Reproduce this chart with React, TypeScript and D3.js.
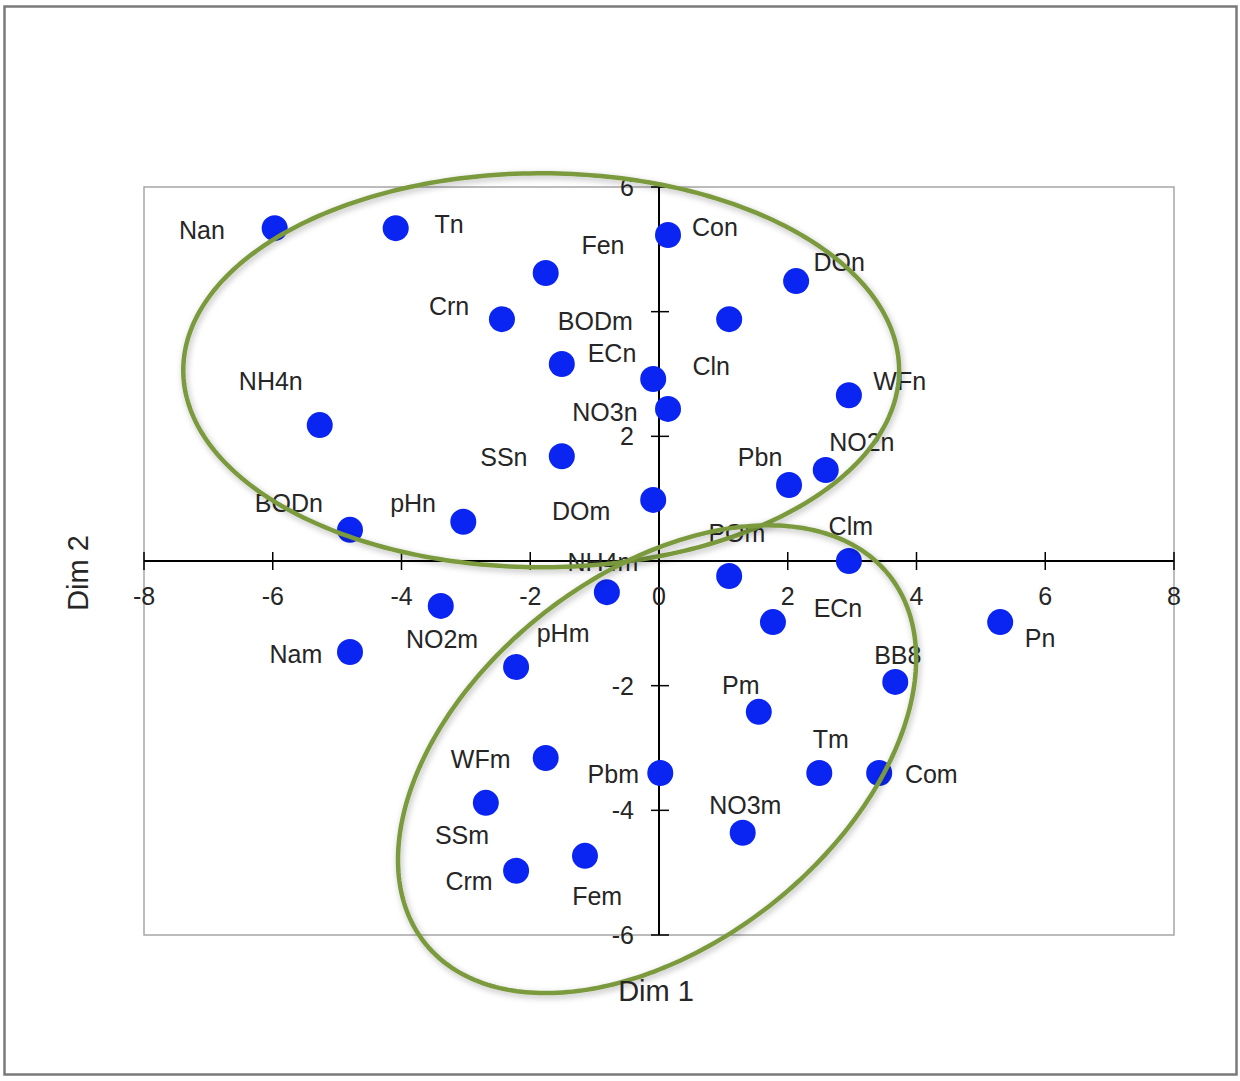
import React from "react";
import * as d3 from "d3";

// ---- data ----
const pointNames = [
  "Nan", "Tn", "Fen", "Con", "DOn", "Crn", "BODm", "ECn", "Cln", "NH4n", "WFn", "NO3n",
  "SSn", "NO2n", "Pbn", "DOm", "BODn", "pHn", "Clm", "POm", "NH4m", "NO2m", "ECn", "Pn",
  "Nam", "pHm", "BB8", "Pm", "WFm", "Pbm", "Tm", "Com", "SSm", "NO3m", "Fem", "Crm",
];
const dim1 = [
  -5.97, -4.09, -1.76, 0.14, 2.13, -2.44, 1.09, -1.51, -0.09, -5.27, 2.95, 0.14,
  -1.51, 2.59, 2.02, -0.09, -4.8, -3.04, 2.95, 1.09, -0.81, -3.39, 1.77, 5.3,
  -4.8, -2.22, 3.67, 1.55, -1.76, 0.02, 2.49, 3.42, -2.69, 1.3, -1.15, -2.22,
];
const dim2 = [
  5.34, 5.34, 4.62, 5.23, 4.49, 3.88, 3.88, 3.16, 2.92, 2.18, 2.66, 2.44,
  1.68, 1.46, 1.22, 0.98, 0.5, 0.63, 0.0, -0.24, -0.5, -0.72, -0.98, -0.98,
  -1.46, -1.7, -1.94, -2.42, -3.16, -3.4, -3.4, -3.4, -3.88, -4.36, -4.73, -4.97,
];
// label anchor (centre) in data units
const labelDim1 = [
  -7.1, -3.26, -0.87, 0.87, 2.8, -3.26, -0.99, -0.73, 0.81, -6.03, 3.74, -0.84,
  -2.41, 3.15, 1.57, -1.21, -5.75, -3.82, 2.98, 1.21, -0.87, -3.37, 2.78, 5.92,
  -5.64, -1.49, 3.71, 1.27, -2.77, -0.71, 2.67, 4.23, -3.06, 1.34, -0.96, -2.95,
];
const labelDim2 = [
  5.31, 5.41, 5.07, 5.36, 4.8, 4.09, 3.85, 3.34, 3.13, 2.89, 2.89, 2.39,
  1.67, 1.91, 1.67, 0.8, 0.93, 0.93, 0.56, 0.45, -0.02, -1.25, -0.75, -1.24,
  -1.49, -1.16, -1.51, -1.99, -3.18, -3.42, -2.86, -3.42, -4.4, -3.91, -5.37, -5.13,
];

const xTicks = [-8, -6, -4, -2, 0, 2, 4, 6, 8];
const yTicks = [-6, -4, -2, 0, 2, 4, 6];
const yTickLabels = [-6, -4, -2, 2, 6];

// grouping ellipses (data units; semi-axes in Dim 1 units)
const ellipseCx = [-1.83, -0.03];
const ellipseCy = [3.06, -3.18];
const ellipseA = [5.56, 4.6];
const ellipseB = [3.06, 2.87];
const ellipseAngle = [0, -38.3];

const W = 1240;
const H = 1081;
const plot = { left: 144, right: 1174, top: 187, bottom: 935 };
const FONT = "'Liberation Sans', Arial, Helvetica, sans-serif";

export default function App() {
  const x = d3.scaleLinear().domain([-8, 8]).range([plot.left, plot.right]);
  const y = d3.scaleLinear().domain([-6, 6]).range([plot.bottom, plot.top]);
  const unitPx = x(1) - x(0);
  const x0 = x(0);
  const y0 = y(0);

  const ellipsePaths = ellipseCx.map((cx, i) => {
    const cxp = x(cx);
    const cyp = y(ellipseCy[i]);
    const a = ellipseA[i] * unitPx;
    const b = ellipseB[i] * unitPx;
    const th = (ellipseAngle[i] * Math.PI) / 180;
    const pts = d3.range(0, Math.PI * 2, 0.02).map((t) => {
      const ex = a * Math.cos(t);
      const ey = b * Math.sin(t);
      return [cxp + ex * Math.cos(th) - ey * Math.sin(th), cyp + ex * Math.sin(th) + ey * Math.cos(th)] as [number, number];
    });
    return d3.line().curve(d3.curveLinearClosed)(pts) as string;
  });

  const textColor = "#262626";

  return (
    <svg
      width={W}
      height={H}
      style={{ position: "absolute", left: 0, top: 0, display: "block", background: "#fff" }}
      fontFamily={FONT}
    >
      <defs>
        <filter id="glow" x="-10%" y="-10%" width="120%" height="120%">
          <feDropShadow dx="1.5" dy="2.5" stdDeviation="3" floodColor="#000" floodOpacity="0.28" />
        </filter>
      </defs>
      <rect x={0} y={0} width={W} height={H} fill="#fff" />
      <rect x={4.5} y={6.5} width={1232} height={1068} fill="none" stroke="#7a7a7a" strokeWidth={2.5} />

      <rect
        x={plot.left}
        y={plot.top}
        width={plot.right - plot.left}
        height={plot.bottom - plot.top}
        fill="#fff"
        stroke="#a6a6a6"
        strokeWidth={1.5}
      />

      {/* axes */}
      <line x1={plot.left} x2={plot.right} y1={y0} y2={y0} stroke="#000" strokeWidth={2} />
      <line x1={x0} x2={x0} y1={plot.top} y2={plot.bottom} stroke="#000" strokeWidth={2} />
      {xTicks.map((t) => (
        <line key={"xt" + t} x1={x(t)} x2={x(t)} y1={y0 - 9} y2={y0 + 9} stroke="#000" strokeWidth={1.5} />
      ))}
      {yTicks.map((t) => (
        <line key={"yt" + t} x1={x0 - 8} x2={x0 + 10} y1={y(t)} y2={y(t)} stroke="#000" strokeWidth={1.5} />
      ))}
      {xTicks.map((t) => (
        <text key={"xl" + t} x={x(t)} y={y0 + 44} textAnchor="middle" fontSize={25} fill={textColor}>
          {t}
        </text>
      ))}
      {yTickLabels.map((t) => (
        <text key={"yl" + t} x={x0 - 25} y={y(t) + 9} textAnchor="end" fontSize={25} fill={textColor}>
          {t}
        </text>
      ))}

      {/* points */}
      {dim1.map((v, i) => (
        <circle key={"p" + i} cx={x(v)} cy={y(dim2[i])} r={13} fill="#0a24f2" />
      ))}

      {/* labels */}
      {pointNames.map((n, i) => (
        <text
          key={"l" + i}
          x={x(labelDim1[i])}
          y={y(labelDim2[i]) + 9}
          textAnchor="middle"
          fontSize={25}
          fill={textColor}
        >
          {n}
        </text>
      ))}

      {/* grouping ellipses */}
      {ellipsePaths.map((d, i) => (
        <path key={"e" + i} d={d} fill="none" stroke="#7a9a3c" strokeWidth={4.5} filter="url(#glow)" />
      ))}

      {/* axis titles */}
      <text x={(plot.left + plot.right) / 2 - 3} y={1001} textAnchor="middle" fontSize={29} fill={textColor}>
        Dim 1
      </text>
      <text
        transform={`translate(88, ${y0 + 12}) rotate(-90)`}
        textAnchor="middle"
        fontSize={29}
        fill={textColor}
      >
        Dim 2
      </text>
    </svg>
  );
}
